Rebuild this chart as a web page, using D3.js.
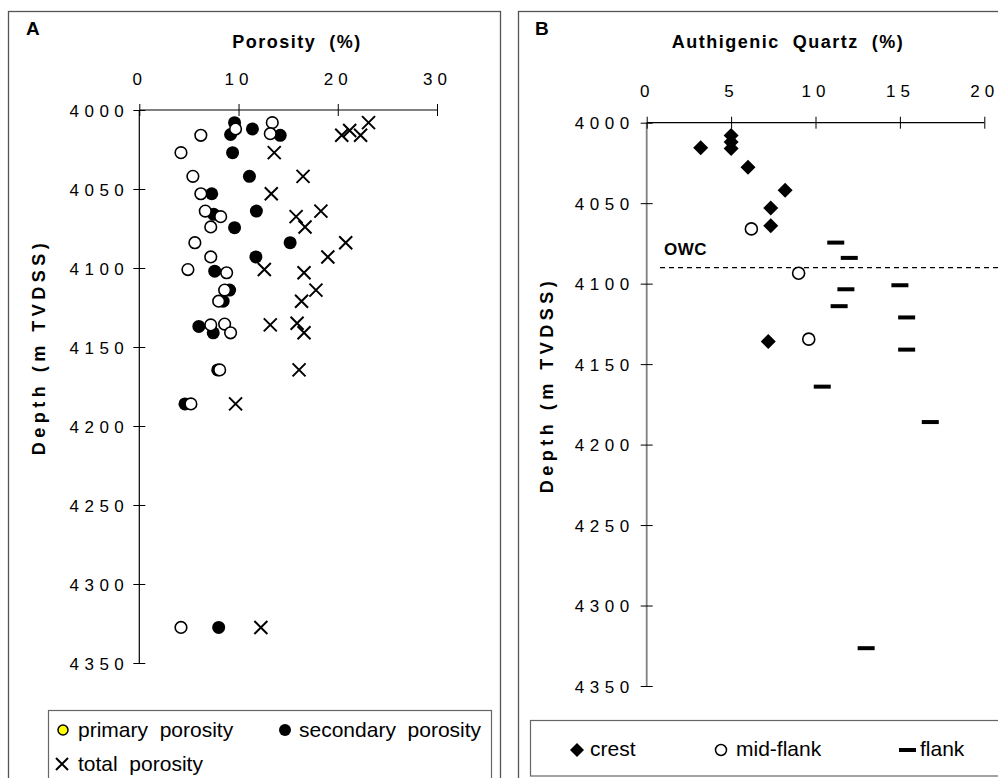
<!DOCTYPE html>
<html lang="en">
<head>
  <meta charset="UTF-8">
  <title>Porosity and Authigenic Quartz vs Depth</title>
  <script src="https://d3js.org/d3.v7.min.js"></script>
  <style>
    body { margin: 0; background: #fff; }
    svg { font-family: "Liberation Sans", Arial, sans-serif; display: block; }
    .tick text { font-family: "Liberation Sans", Arial, sans-serif; font-size: 17px; fill: #000; }
    .xt .tick text { letter-spacing: 5px; }
    .yt .tick text { letter-spacing: 5.5px; }
    .ttl { font-weight: bold; white-space: pre; }
    .leg { font-size: 21px; white-space: pre; }
  </style>
</head>
<body>
  <svg id="chart" width="998" height="778"></svg>
  <script>
    // ---- data: [value %, depth m] ----
    const primaryPorosity = [
      [13.4, 4008], [9.7, 4012], [13.2, 4015], [6.2, 4016], [4.2, 4027], [5.4, 4042],
      [6.2, 4053], [6.65, 4064], [8.2, 4067.5], [7.2, 4074], [5.6, 4084], [7.2, 4093],
      [4.9, 4101], [8.8, 4103], [8.6, 4114], [8.0, 4121], [7.2, 4136], [8.6, 4135.5],
      [9.2, 4141], [8.1, 4164.5], [5.2, 4186], [4.2, 4327.5]
    ];
    const secondaryPorosity = [
      [9.6, 4008], [9.2, 4015.5], [11.4, 4012], [14.2, 4016], [9.4, 4027], [11.1, 4042],
      [7.3, 4053], [11.8, 4064], [7.5, 4066], [9.6, 4074.5], [15.2, 4084], [11.75, 4093],
      [7.6, 4102], [9.1, 4114], [8.45, 4121], [6.0, 4137], [7.45, 4141], [7.9, 4164.5],
      [4.6, 4186], [8.0, 4327.5]
    ];
    const totalPorosity = [
      [20.4, 4016], [21.2, 4013], [22.3, 4016], [23.1, 4008], [13.6, 4027], [16.5, 4042],
      [13.3, 4053], [18.3, 4064], [15.8, 4067.5], [16.7, 4074], [20.8, 4084], [19.0, 4093],
      [12.6, 4101], [16.6, 4103], [17.8, 4114], [16.35, 4121], [13.2, 4136], [15.9, 4135],
      [16.6, 4141], [16.1, 4164.5], [9.7, 4186], [12.25, 4327.5]
    ];
    const crest = [
      [5.0, 4008], [5.0, 4012], [5.0, 4016], [3.2, 4015.5], [6.0, 4027.7], [8.2, 4042],
      [7.35, 4053], [7.35, 4064], [7.2, 4136]
    ];
    const midFlank = [[6.2, 4066], [9.0, 4093.5], [9.6, 4134.5]];
    const flank = [
      [11.2, 4074.5], [12.0, 4084], [15.0, 4101], [11.8, 4103.5], [11.4, 4114],
      [15.4, 4121], [15.4, 4141], [10.4, 4164], [16.8, 4186], [13.0, 4326.5]
    ];
    const owcDepth = 4090;
    const depthTicks = [4000, 4050, 4100, 4150, 4200, 4250, 4300, 4350];
    const porosityTicks = [0, 10, 20, 30];
    const quartzTicks = [0, 5, 10, 15, 20];

    const svg = d3.select("#chart");

    // panel frames
    svg.append("rect").attr("x", 8.5).attr("y", 11.5).attr("width", 492).attr("height", 780)
       .attr("fill", "none").attr("stroke", "#555").attr("stroke-width", 1.3);
    svg.append("rect").attr("x", 518.5).attr("y", 11.5).attr("width", 500).attr("height", 780)
       .attr("fill", "none").attr("stroke", "#555").attr("stroke-width", 1.3);

    function crossTicks(g, horizontal) {
      g.selectAll(".tick line").attr("stroke", "#000")
        .attr(horizontal ? "y1" : "x1", -6).attr(horizontal ? "y2" : "x2", 6);
      g.select(".domain").remove();
    }

    function drawPanel(opt) {
      const x = d3.scaleLinear().domain(opt.xDomain).range(opt.xRange);
      const y = d3.scaleLinear().domain([4000, 4350]).range(opt.yRange);

      // axis lines
      svg.append("line").attr("x1", x(opt.xDomain[0])).attr("x2", x(opt.xDomain[1]))
         .attr("y1", y(4000)).attr("y2", y(4000)).attr("stroke", "#000").attr("stroke-width", 1.2);
      svg.append("line").attr("x1", x(0)).attr("x2", x(0))
         .attr("y1", y(4000)).attr("y2", y(4350)).attr("stroke", opt.yColor).attr("stroke-width", opt.yWidth);

      const gx = svg.append("g").attr("class", "xt").attr("transform", `translate(0,${y(4000)})`)
        .call(d3.axisTop(x).tickValues(opt.xTicks).tickSize(6).tickPadding(opt.xPad));
      crossTicks(gx, true);

      const gy = svg.append("g").attr("class", "yt").attr("transform", `translate(${x(0)},0)`)
        .call(d3.axisLeft(y).tickValues(depthTicks).tickFormat(d3.format("d"))
                .tickSize(6).tickPadding(opt.yPad));
      crossTicks(gy, false);
      gy.selectAll(".tick text").attr("dy", "0.36em");

      // titles
      svg.append("text").attr("class", "ttl").attr("x", opt.titleX).attr("y", 48)
         .attr("text-anchor", "middle").style("font-size", "18px").style("letter-spacing", "1.5px")
         .text(opt.title);
      svg.append("text").attr("class", "ttl").attr("x", opt.letterX).attr("y", 35)
         .style("font-size", "19px").text(opt.letter);
      svg.append("text").attr("class", "ttl")
         .attr("transform", `translate(${opt.ytX},${opt.ytY}) rotate(-90)`)
         .attr("text-anchor", "middle").style("font-size", "18px").style("letter-spacing", "4.5px")
         .text("Depth (m TVDSS)");
      return { x, y };
    }

    // ---------- Panel A ----------
    const A = drawPanel({
      xDomain: [0, 30], xRange: [139.3, 437], yRange: [110, 663],
      xTicks: porosityTicks, xPad: 19, yPad: 4, yColor: "#000", yWidth: 1.2,
      title: "Porosity  (%)", titleX: 297, letter: "A", letterX: 26, ytX: 45, ytY: 347
    });

    svg.append("g").selectAll("path").data(totalPorosity).join("path")
      .attr("transform", d => `translate(${A.x(d[0])},${A.y(d[1])})`)
      .attr("d", "M-6.5,-6.5L6.5,6.5M-6.5,6.5L6.5,-6.5")
      .attr("stroke", "#000").attr("stroke-width", 2).attr("fill", "none");
    svg.append("g").selectAll("circle").data(secondaryPorosity).join("circle")
      .attr("cx", d => A.x(d[0])).attr("cy", d => A.y(d[1])).attr("r", 6.5).attr("fill", "#000");
    svg.append("g").selectAll("circle").data(primaryPorosity).join("circle")
      .attr("cx", d => A.x(d[0])).attr("cy", d => A.y(d[1])).attr("r", 5.8)
      .attr("fill", "#fff").attr("stroke", "#000").attr("stroke-width", 1.6);

    // legend A
    svg.append("rect").attr("x", 48.5).attr("y", 710.5).attr("width", 443).attr("height", 70)
       .attr("fill", "#fff").attr("stroke", "#666").attr("stroke-width", 1.2);
    svg.append("circle").attr("cx", 63).attr("cy", 730).attr("r", 5)
       .attr("fill", "#ffff00").attr("stroke", "#000").attr("stroke-width", 1.5);
    svg.append("text").attr("class", "leg").attr("x", 78).attr("y", 737).text("primary  porosity");
    svg.append("circle").attr("cx", 285).attr("cy", 730).attr("r", 6).attr("fill", "#000");
    svg.append("text").attr("class", "leg").attr("x", 299).attr("y", 737).text("secondary  porosity");
    svg.append("path").attr("transform", "translate(62,764)")
       .attr("d", "M-6,-6L6,6M-6,6L6,-6").attr("stroke", "#000").attr("stroke-width", 2);
    svg.append("text").attr("class", "leg").attr("x", 78).attr("y", 771).text("total  porosity");

    // ---------- Panel B ----------
    const B = drawPanel({
      xDomain: [0, 20], xRange: [646.7, 984.3], yRange: [122.7, 686],
      xTicks: quartzTicks, xPad: 20, yPad: 6, yColor: "#808080", yWidth: 1.8,
      title: "Authigenic  Quartz  (%)", titleX: 788, letter: "B", letterX: 535, ytX: 553, ytY: 385
    });

    // OWC
    svg.append("line").attr("x1", 660).attr("x2", 998)
       .attr("y1", B.y(owcDepth)).attr("y2", B.y(owcDepth))
       .attr("stroke", "#000").attr("stroke-width", 1.3).attr("stroke-dasharray", "5,4");
    svg.append("text").attr("class", "ttl").attr("x", 664).attr("y", B.y(owcDepth) - 13)
       .style("font-size", "17px").style("letter-spacing", "0.5px").text("OWC");

    svg.append("g").selectAll("rect").data(flank).join("rect")
      .attr("x", d => B.x(d[0]) - 8.5).attr("y", d => B.y(d[1]) - 2)
      .attr("width", 17).attr("height", 4).attr("fill", "#000");
    svg.append("g").selectAll("circle").data(midFlank).join("circle")
      .attr("cx", d => B.x(d[0])).attr("cy", d => B.y(d[1])).attr("r", 6)
      .attr("fill", "#fff").attr("stroke", "#000").attr("stroke-width", 1.6);
    svg.append("g").selectAll("path").data(crest).join("path")
      .attr("transform", d => `translate(${B.x(d[0])},${B.y(d[1])})`)
      .attr("d", "M0,-7.5L7.5,0L0,7.5L-7.5,0Z").attr("fill", "#000");

    // legend B
    svg.append("rect").attr("x", 530.5).attr("y", 720.5).attr("width", 480).attr("height", 55.5)
       .attr("fill", "#fff").attr("stroke", "#666").attr("stroke-width", 1.2);
    svg.append("path").attr("transform", "translate(577,750)")
       .attr("d", "M0,-7L7,0L0,7L-7,0Z").attr("fill", "#000");
    svg.append("text").attr("class", "leg").attr("x", 590).attr("y", 756).text("crest");
    svg.append("circle").attr("cx", 721).attr("cy", 750).attr("r", 5.5)
       .attr("fill", "#fff").attr("stroke", "#000").attr("stroke-width", 1.5);
    svg.append("text").attr("class", "leg").attr("x", 736).attr("y", 756).text("mid-flank");
    svg.append("rect").attr("x", 899).attr("y", 748).attr("width", 17).attr("height", 4).attr("fill", "#000");
    svg.append("text").attr("class", "leg").attr("x", 920).attr("y", 756).text("flank");
  </script>
</body>
</html>
